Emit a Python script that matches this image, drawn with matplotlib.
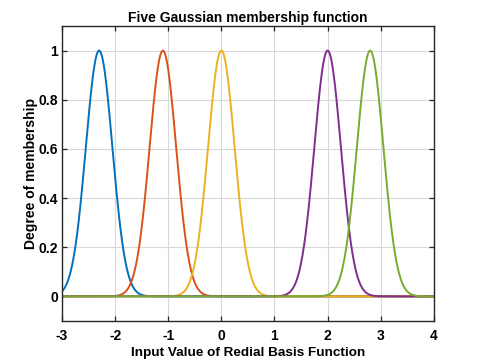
import numpy as np
import matplotlib
matplotlib.use("Agg")
import matplotlib.pyplot as plt

# Data: Gaussian membership function parameters
centers = [-2.3, -1.1, 0.0, 2.0, 2.8]
sigmas = [0.25, 0.25, 0.25, 0.25, 0.25]
colors = ["#0072BD", "#D95319", "#EDB120", "#7E2F8E", "#77AC30"]
xticks = [-3, -2, -1, 0, 1, 2, 3, 4]
yticks = [0, 0.2, 0.4, 0.6, 0.8, 1]
ytick_labels = ["0", "0.2", "0.4", "0.6", "0.8", "1"]

plt.rcParams['font.family'] = ['Liberation Sans', 'DejaVu Sans']

fig = plt.figure(figsize=(4.8, 3.61), dpi=100)
ax = fig.add_axes([0.129, 0.111, 0.775, 0.817])

x = np.linspace(-3, 4, 1401)
for c, s, col in zip(centers, sigmas, colors):
    ax.plot(x, np.exp(-((x - c) ** 2) / (2 * s ** 2)), color=col, lw=1.4)

ax.set_xlim(-3, 4)
ax.set_ylim(-0.1, 1.1)
ax.set_xticks(xticks)
ax.set_xticklabels([str(t) for t in xticks])
ax.set_yticks(yticks)
ax.set_yticklabels(ytick_labels)
ax.grid(True, color="#d9d9d9", lw=0.8)
ax.set_axisbelow(True)
ax.tick_params(direction="in", top=True, right=True, length=3.5, width=0.9,
               labelsize=10, color="#262626")
ax.tick_params(axis="x", pad=6)
ax.tick_params(axis="y", pad=3)
for lab in ax.get_xticklabels() + ax.get_yticklabels():
    lab.set_fontweight("bold")
for sp in ax.spines.values():
    sp.set_color("#262626")
    sp.set_linewidth(1.0)

ax.set_title("Five Gaussian membership function", fontsize=10, fontweight="bold", pad=3)
ax.set_xlabel("Input Value of Redial Basis Function", fontsize=9.7, fontweight="bold", labelpad=3)
ax.set_ylabel("Degree of membership", fontsize=10, fontweight="bold", labelpad=0.5)

fig.savefig("out.png", dpi=100)
